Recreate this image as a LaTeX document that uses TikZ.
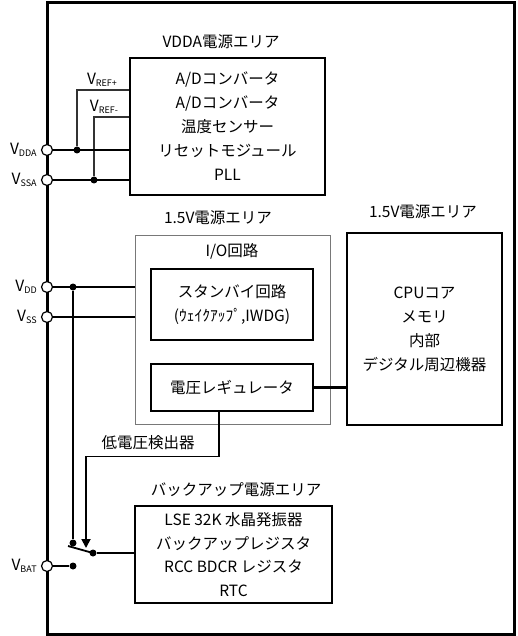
\documentclass[tikz,border=0pt]{standalone}
\usepackage{fontspec}
\setmainfont{Noto Sans CJK JP}
\usetikzlibrary{arrows.meta,positioning}
\definecolor{Gref}{RGB}{50,50,50}
\definecolor{Gio}{RGB}{120,120,120}
\newcommand{\Vsub}[1]{V\raisebox{-2.5pt}{\fontsize{9}{9}\selectfont #1}}

\tikzset{
  caja/.style={draw, line width=1.8pt, inner sep=0pt, align=center,
    font=\fontsize{15.5}{24}\selectfont},
  titulo/.style={font=\fontsize{15.5}{18}\selectfont, inner sep=0pt},
  terminal/.style={circle, draw, fill=white, line width=1.2pt,
    minimum size=11pt, inner sep=0pt},
  alim/.style={line width=2.2pt},
  vref/.style={line width=1.6pt, color=Gref},
  punto/.style={circle, fill, minimum size=7pt, inner sep=0pt}
}

\begin{document}
\begin{tikzpicture}[x=1pt,y=-1pt]
   	\useasboundingbox (0,0) rectangle (517,636);
   	%Marco exterior
   	\draw[line width=3pt] (47,3) rectangle (514,634);

	%Area VDDA
   	\node[titulo] (tvdda) at (221,42) {VDDA電源エリア};
   	\node[caja, minimum width=195pt, minimum height=137pt] (adc) at (227.5,126.5)
   		{A/Dコンバータ\\A/Dコンバータ\\温度センサー\\リセットモジュール\\PLL};

	%Area 1.5V (I/O)
   	\node[titulo] (tio) at (218,218) {1.5V電源エリア};
   	\node[draw=Gio, line width=1pt, minimum width=195pt, minimum height=189pt,
   		inner sep=0pt] (io) at (232.5,329.5) {};
   	\node[titulo] (tcirc) at (232,251) {I/O回路};
   	\node[caja, minimum width=162pt, minimum height=71pt]
   		(stby) at (232,304.5) {スタンバイ回路\\(ｳｪｲｸｱｯﾌﾟ,IWDG)};
   	\node[caja, minimum width=162pt, minimum height=47pt] (reg) at (232,387.5) {電圧レギュレータ};

	%Area 1.5V (CPU)
   	\node[titulo] (tcpu) at (423,212) {1.5V電源エリア};
   	\node[caja, minimum width=155pt, minimum height=192pt] (cpu) at (424.5,329)
   		{CPUコア\\メモリ\\内部\\デジタル周辺機器};

	%Area de respaldo
   	\node[titulo] (tbak) at (236,490) {バックアップ電源エリア};
   	\node[caja, minimum width=197pt, minimum height=97pt, font=\fontsize{15.5}{23.5}\selectfont]
   		(bak) at (233.5,554.5) {LSE 32K 水晶発振器\\バックアップレジスタ\\RCC BDCR レジスタ\\RTC};

	%Terminales
   	\node[terminal] (pvdda) at (47,150) {};
   	\node[terminal] (pvssa) at (47,180) {};
   	\node[terminal] (pvdd) at (47,287) {};
   	\node[terminal] (pvss) at (47,317) {};
   	\node[terminal] (pvbat) at (47,566) {};
   	\node[titulo, left=4pt of pvdda] (lvdda) {\Vsub{DDA}};
   	\node[titulo, left=4pt of pvssa] (lvssa) {\Vsub{SSA}};
   	\node[titulo, left=4pt of pvdd] (lvdd) {\Vsub{DD}};
   	\node[titulo, left=4pt of pvss] (lvss) {\Vsub{SS}};
   	\node[titulo, left=4pt of pvbat] (lvbat) {\Vsub{BAT}};

	%Referencias
   	\node[punto] (jref1) at (77,150) {};
   	\node[punto] (jref2) at (94,180) {};
   	\draw[vref] (jref1) |- ([yshift=36.5pt]adc.west);
   	\draw[vref] (jref2) |- ([yshift=9.5pt]adc.west);
   	\node[titulo] (lref1) at (102,80) {\Vsub{REF+}};
   	\node[titulo] (lref2) at (104,107) {\Vsub{REF-}};
   	\draw[alim] (pvdda) -- (pvdda -| adc.west);
   	\draw[alim] (pvssa) -- (pvssa -| adc.west);

	%VDD y VSS
   	\node[punto] (jvdd) at (73,287) {};
   	\draw[alim] (pvdd) -- (pvdd -| io.west);
   	\draw[alim] (pvss) -- (pvss -| io.west);

	%Conmutador
   	\node[punto] (sw1) at (73,543) {};
   	\node[punto] (sw2) at (73,566) {};
   	\node[punto] (swp) at (93,553) {};
   	\coordinate (swl) at (68,546);
   	\draw[alim] (jvdd) -- (sw1);
   	\draw[line width=1.8pt] (swl) -- (swp.center);
   	\draw[alim] (pvbat) -- (sw2);
   	\draw[alim] (swp) -- (swp -| bak.west);

	%Regulador y detector
   	\draw[alim] (reg.east) -- (reg.east -| cpu.west);
   	\coordinate (codo) at (219,456.5);
   	\coordinate (flecha) at (86,548);
   	\draw[line width=1.8pt, -{Triangle[length=9pt,width=9pt]}]
   		(reg.south -| codo) -- (codo) -| (flecha);
   	\node[titulo] (ldet) at (148,443) {低電圧検出器};
\end{tikzpicture}
\end{document}
